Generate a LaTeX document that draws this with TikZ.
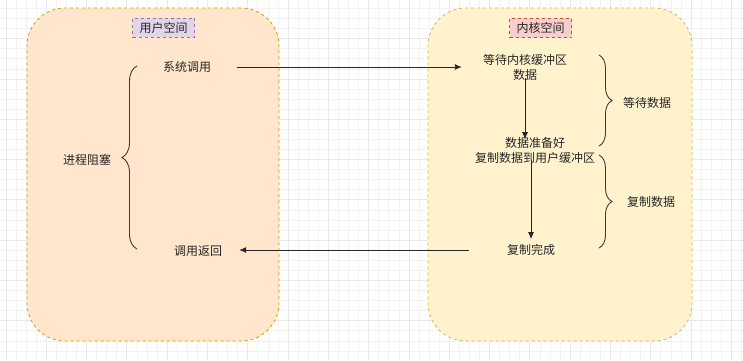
\documentclass[tikz,border=0pt]{standalone}
\usepackage{fontspec}
\setmainfont{Noto Sans CJK SC}
\usetikzlibrary{arrows.meta,positioning,decorations.pathreplacing}
\definecolor{usrfill}{HTML}{FFE6CC}
\definecolor{usrdraw}{HTML}{D79B00}
\definecolor{kerfill}{HTML}{FFF2CC}
\definecolor{kerdraw}{HTML}{D6B656}
\definecolor{usrtag}{HTML}{E1D5E7}
\definecolor{usrtagdraw}{HTML}{9673A6}
\definecolor{kertag}{HTML}{F8CECC}
\definecolor{kertagdraw}{HTML}{B85450}
\definecolor{inkgray}{HTML}{262626}
\definecolor{gridgray}{HTML}{E8E8E8}
\tikzset{
  spacebox/.style={dashed, rounded corners=38pt, line width=0.8pt},
  spacetag/.style={dashed, line width=0.8pt, inner xsep=7pt, inner ysep=4pt,
    font=\fontsize{12}{14}\selectfont, text=inkgray},
  stepnote/.style={align=center, font=\fontsize{12}{15}\selectfont, text=inkgray, inner sep=2pt},
  flowarrow/.style={-{Latex[length=7pt,width=6pt]}, line width=0.9pt, draw=black!85},
  bracket/.style={decorate, decoration={brace, amplitude=#1}, line width=0.9pt, draw=inkgray!90},
  gridminor/.style={draw=gridgray!55, line width=0.4pt},
  gridmajor/.style={draw=gridgray, line width=0.6pt}
}
\begin{document}
\begin{tikzpicture}[x=1pt, y=-1pt]
  \useasboundingbox (0,0) rectangle (743,360);
  \fill[white] (0,0) rectangle (743,360);
  % background grid
  \foreach \i in {0,...,73} {
    \pgfmathtruncatemacro{\m}{mod(\i,4)}
    \ifnum\m=0 \draw[gridmajor] ({5.8+10.075*\i},0) -- ++(0,360);
    \else \draw[gridminor] ({5.8+10.075*\i},0) -- ++(0,360); \fi
  }
  \foreach \j in {1,...,36} {
    \pgfmathtruncatemacro{\m}{mod(\j,4)}
    \ifnum\m=0 \draw[gridmajor] (0,{-1.8+10.075*\j}) -- ++(743,0);
    \else \draw[gridminor] (0,{-1.8+10.075*\j}) -- ++(743,0); \fi
  }

  % the two spaces
  \node[spacebox, fill=usrfill, draw=usrdraw, minimum width=252pt, minimum height=333pt] (usr) at (153,174.5) {};
  \node[spacebox, fill=kerfill, draw=kerdraw, minimum width=264pt, minimum height=333pt] (ker) at (560,174.5) {};
  \node[spacetag, fill=usrtag, draw=usrtagdraw] (usrtag) at (163.5,27.5) {用户空间};
  \node[spacetag, fill=kertag, draw=kertagdraw] (kertag) at (540.5,28) {内核空间};

  % steps
  \node[stepnote, minimum width=100pt] (syscall) at (187,67) {系统调用};
  \node[stepnote, minimum width=82pt] (sysret) at (198,251) {调用返回};
  \node[stepnote, minimum width=126pt] (waitbuf) at (525,67.5) {等待内核缓冲区\\数据};
  \node[stepnote] (ready) at (535,150.5) {数据准备好\\复制数据到用户缓冲区};
  \node[stepnote, minimum width=124pt] (done) at (531,250) {复制完成};

  \draw[flowarrow] (syscall.east) -- (syscall.east -| waitbuf.west);
  \draw[flowarrow, shorten <=-5pt, shorten >=-4pt] (waitbuf.south) -- (waitbuf.south |- ready.north);
  \draw[flowarrow, shorten <=-6pt, shorten >=3pt] (ready.south -| done.north) -- (done.north);
  \draw[flowarrow] (done.west) -- (done.west -| sysret.east);

  % braces
  \draw[bracket=15pt] (137,249) -- (137,66);
  \node[stepnote] (block) at (87,160) {进程阻塞};
  \draw[bracket=13pt] (599,55) -- (599,146);
  \node[stepnote] (waitdata) at (647,103) {等待数据};
  \draw[bracket=13pt] (599,155) -- (599,248);
  \node[stepnote] (copydata) at (651,202) {复制数据};
\end{tikzpicture}
\end{document}
